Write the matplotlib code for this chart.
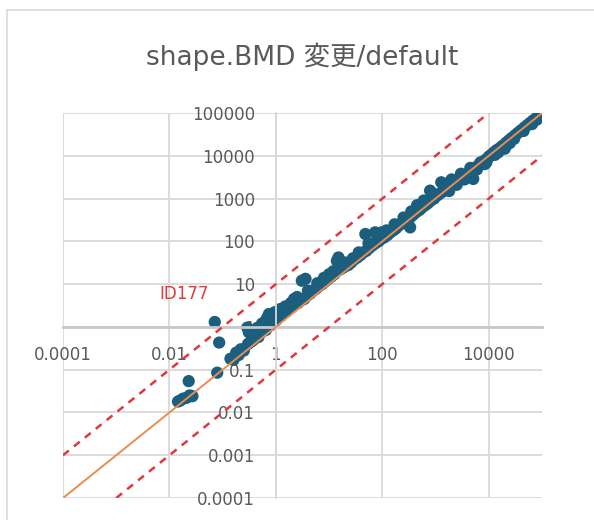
import matplotlib.pyplot as plt
from matplotlib.ticker import FixedLocator, NullLocator, FixedFormatter
from matplotlib.patches import Rectangle

plt.rcParams['font.family'] = ['DejaVu Sans', 'Noto Sans CJK JP']

# default vs changed BMD values
default_vals = [
    0.0145, 0.016, 0.018, 0.021, 0.024, 0.027, 0.023, 0.071, 0.086, 0.079,
    0.14, 0.16, 0.18, 0.20, 0.22, 0.25, 0.29, 0.31, 0.30, 0.34,
    0.38, 0.42, 0.47, 0.52, 0.58, 0.65, 0.72, 0.74, 0.80, 0.84,
    0.90, 1.0, 1.1, 1.25, 1.4, 1.6, 1.8, 2.0, 2.3, 2.6,
    3.07, 3.6, 3.0, 3.4, 3.9, 4.4, 5.0, 5.7, 6.5, 7.4,
    8.4, 9.5, 11, 12.5, 14, 15, 14, 16, 18, 20,
    23, 26, 30, 34, 39, 44, 48, 50, 57, 65,
    73, 74, 85, 96, 97, 110, 125, 140, 160, 180,
    200, 230, 260, 300, 333, 340, 380, 430, 500, 560,
    640, 720, 790, 820, 940, 1100, 1250, 1280, 1400, 1600,
    1800, 2100, 2400, 2700, 3100, 3500, 4000, 4600, 5100, 5200,
    5900, 6700, 7600, 8450, 8600, 9800, 11000, 12500, 14000, 16000,
    18000, 19900, 21000, 24000, 27000, 31000, 35000, 40000, 46000, 52000,
    59000, 67000, 76000, 85000,
    0.45, 0.55, 0.62, 0.68, 0.36, 1.2, 1.5, 1.9, 2.2, 2.5,
    0.95, 4.0, 6.0, 8.0, 10, 12, 20, 28, 36, 55,
    80, 120, 170, 250, 350, 450, 600, 900, 1500, 2000,
    3000, 4500, 7000, 10000, 15000, 22000, 30000, 45000, 65000, 80000,
    1800, 2500, 3500, 6000, 9000, 13000, 25000,
]
changed_vals = [
    0.018, 0.019, 0.021, 0.022, 0.025, 0.024, 0.054, 1.30, 0.43, 0.085,
    0.18, 0.17, 0.25, 0.22, 0.30, 0.28, 0.96, 0.75, 0.40, 0.45,
    0.50, 0.62, 0.58, 0.75, 0.80, 0.85, 1.05, 2.0, 1.10, 1.5,
    1.30, 1.4, 1.7, 1.8, 2.1, 2.3, 2.8, 2.9, 3.4, 3.6,
    12.0, 13.3, 4.2, 4.5, 5.4, 6.0, 7.0, 7.8, 9.0, 10.0,
    11.5, 13, 15, 17, 35, 42, 20, 22, 24, 26,
    28, 32, 38, 42, 48, 55, 148, 60, 70, 80,
    162, 90, 100, 162, 115, 125, 140, 160, 180, 200,
    230, 260, 290, 330, 212, 370, 420, 480, 540, 620,
    700, 780, 1530, 900, 1000, 1200, 1350, 2400, 1500, 1700,
    1900, 2200, 2400, 2700, 3000, 3400, 3800, 4300, 2870, 5000,
    5500, 6300, 7000, 6400, 8000, 9000, 10500, 12000, 13500, 15000,
    17000, 14600, 20000, 23000, 26000, 30000, 34000, 39000, 45000, 51000,
    58000, 66000, 74000, 80000,
    0.95, 1.2, 1.3, 1.6, 0.62, 2.6, 3.0, 3.6, 4.5, 5.0,
    2.2, 7.0, 10.5, 14, 17, 20, 32, 40, 55, 90,
    110, 180, 250, 360, 500, 700, 900, 1300, 2200, 2800,
    3800, 5200, 7000, 9500, 12000, 18000, 25000, 38000, 55000, 70000,
    1500, 2100, 2800, 4800, 7000, 10500, 20000,
]

# reference lines: 1:1, x10 and x1/10
ident_x = [1e-4, 1e5]
ident_y = [1e-4, 1e5]
upper_x = [1e-4, 1e4]
upper_y = [1e-3, 1e5]
lower_x = [1e-3, 1e5]
lower_y = [1e-4, 1e4]

x_ticks = [1e-4, 1e-2, 1, 1e2, 1e4]
x_labels = ['0.0001', '0.01', '1', '100', '10000']
y_ticks = [1e-4, 1e-3, 1e-2, 1e-1, 1, 1e1, 1e2, 1e3, 1e4, 1e5]
y_labels = ['0.0001', '0.001', '0.01', '0.1', '1', '10', '100', '1000',
            '10000', '100000']

grey = '#595959'

fig = plt.figure(figsize=(5.94, 5.2), dpi=100)
fig.patch.set_facecolor('white')
# chart frame
fig.patches.append(Rectangle((7 / 594, -0.1), 1.2, 1 - 10 / 520 + 0.1,
                             transform=fig.transFigure, fill=False,
                             edgecolor='#d9d9d9', linewidth=1.2))

ax = fig.add_axes([63 / 594, 1 - 498 / 520, 479 / 594, 385 / 520])
ax.set_xscale('log')
ax.set_yscale('log')
ax.set_xlim(1e-4, 1e5)
ax.set_ylim(1e-4, 1e5)
ax.set_axisbelow(True)

ax.scatter(default_vals, changed_vals, s=78, color='#1c5e7e', edgecolors='none', zorder=2)
ax.plot(ident_x, ident_y, color='#ed8b4f', linewidth=1.4, zorder=3)
ax.plot(upper_x, upper_y, color='#e0383c', linewidth=1.8, dashes=(3, 2.6), zorder=3)
ax.plot(lower_x, lower_y, color='#e0383c', linewidth=1.8, dashes=(3, 2.6), zorder=3)

ax.text(0.0066, 5.9, 'ID177', color='#e0383c', fontsize=12, va='center', ha='left')

# axes cross at 1
for side in ['top', 'right']:
    ax.spines[side].set_visible(False)
ax.spines['bottom'].set_position(('data', 1))
ax.spines['left'].set_position(('data', 1))
ax.spines['bottom'].set_color('#c8c8c8')
ax.spines['bottom'].set_linewidth(2.0)
ax.spines['left'].set_color('#d9d9d9')
ax.spines['left'].set_linewidth(1.3)

ax.xaxis.set_major_locator(FixedLocator(x_ticks))
ax.xaxis.set_major_formatter(FixedFormatter(x_labels))
ax.xaxis.set_minor_locator(NullLocator())
ax.yaxis.set_major_locator(FixedLocator(y_ticks))
ax.yaxis.set_major_formatter(FixedFormatter(y_labels))
ax.yaxis.set_minor_locator(NullLocator())
ax.tick_params(axis='x', length=0, pad=14, labelsize=12, labelcolor=grey)
ax.tick_params(axis='y', length=0, pad=15, labelsize=12, labelcolor=grey)

ax.grid(True, color='#d9d9d9', linewidth=1.3)

fig.text(302 / 594, 1 - 57 / 520, 'shape.BMD 変更/default', ha='center', va='center',
         fontsize=19, color=grey)

fig.savefig('out.png', dpi=100, facecolor='white')
